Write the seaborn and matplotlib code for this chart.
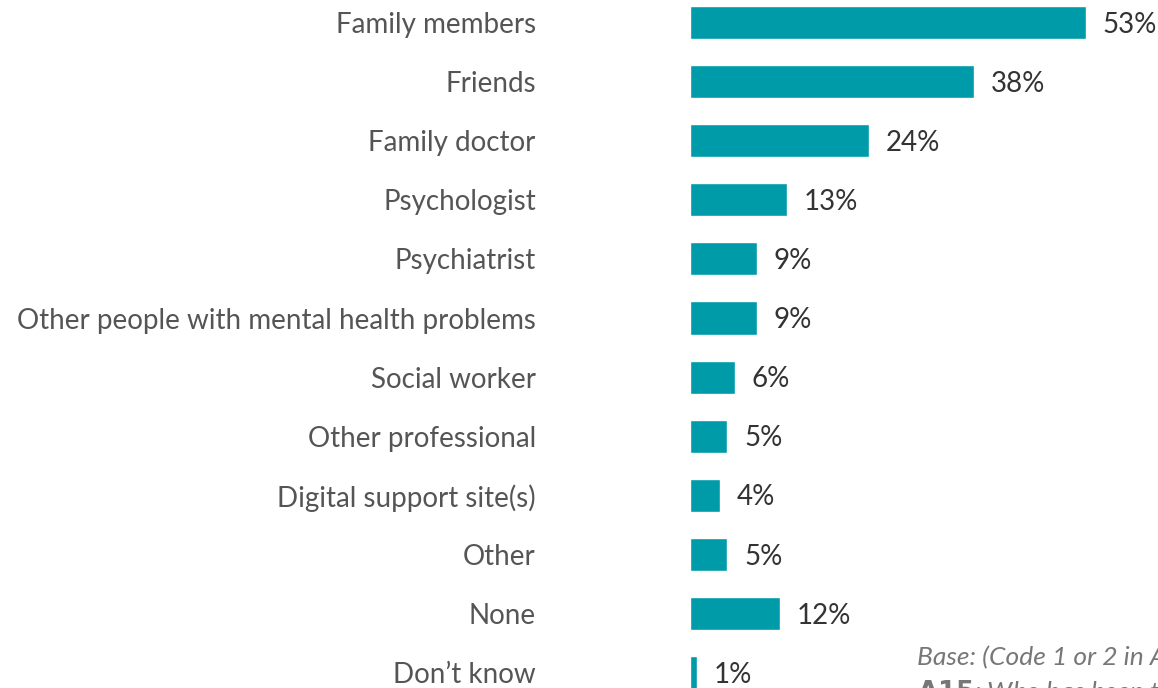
import pandas as pd
import matplotlib.pyplot as plt
import seaborn as sns

categories = ["Family members", "Friends", "Family doctor", "Psychologist",
              "Psychiatrist", "Other people with mental health problems",
              "Social worker", "Other professional", "Digital support site(s)",
              "Other", "None", "Don\u2019t know"]
values = [53, 38, 24, 13, 9, 9, 6, 5, 4, 5, 12, 1]
value_labels = ["53%", "38%", "24%", "13%", "9%", "9%", "6%", "5%", "4%", "5%", "12%", "1%"]

sns.set_style("white")
plt.rcParams['font.family'] = ['Lato', 'DejaVu Sans']

df = pd.DataFrame({"category": categories, "value": values})

fig = plt.figure(figsize=(11.58, 6.88), dpi=100)
ax = fig.add_axes([690 / 1158, 0, 1 - 690 / 1158, 1])
sns.barplot(data=df, x="value", y="category", color="#009ba8", width=0.56,
            saturation=1, ax=ax)

ax.set_xlim(0, (1158 - 690) / 7.47)
ax.set_ylim(11.26, -0.381)
sns.despine(ax=ax, left=True, bottom=True)
ax.set_xticks([])
ax.set_xlabel("")
ax.set_ylabel("")
ax.tick_params(axis="y", length=0, pad=111, labelsize=20, labelcolor="#555555")

# value labels just past the bar ends
for i, (v, lab) in enumerate(zip(values, value_labels)):
    ax.annotate(lab, (v, i), xytext=(12, -1.5), textcoords="offset points",
                va="center", ha="left", fontsize=20, color="#333333")

# footnote, cut off at the figure edge as in the original
fig.text(917 / 1158, 1 - 658 / 688, "Base: (Code 1 or 2 in A14)",
         fontsize=19, style="italic", color="#777777", va="center")
fig.text(917 / 1158, 1 - 692 / 688, r"$\bf{A15}$: Who has been there for you",
         fontsize=19, style="italic", color="#777777", va="center")

fig.savefig("out.png", dpi=100)
